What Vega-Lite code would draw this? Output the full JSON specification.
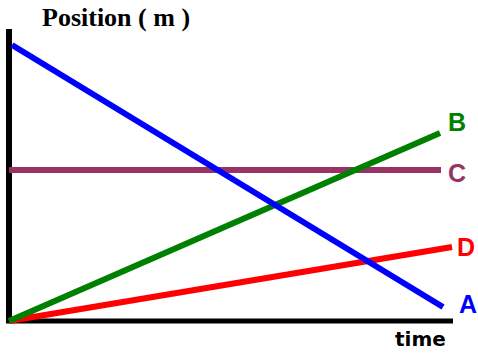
{
  "$schema": "https://vega.github.io/schema/vega-lite/v6.json",
  "width": 478,
  "height": 354,
  "padding": 0,
  "autosize": "none",
  "background": "white",
  "config": {"view": {"stroke": null}},
  "datasets": {
    "lines": [
      {"series": "C", "time": 0, "position": 151},
      {"series": "C", "time": 432, "position": 151},
      {"series": "D", "time": 0, "position": 0},
      {"series": "D", "time": 443, "position": 74},
      {"series": "B", "time": 0, "position": 0},
      {"series": "B", "time": 431, "position": 188},
      {"series": "A", "time": 3, "position": 276},
      {"series": "A", "time": 434, "position": 14}
    ],
    "axesv": [{"time": 0, "p0": -2, "p1": 292}],
    "axesh": [{"position": 0, "t0": -3, "t1": 444}],
    "labels": [
      {"series": "A", "time": 450, "position": 8},
      {"series": "B", "time": 439, "position": 190},
      {"series": "C", "time": 439, "position": 139},
      {"series": "D", "time": 448, "position": 65}
    ],
    "titles": [
      {"label": "Position ( m )", "time": 33, "position": 295, "kind": "y"},
      {"label": "time", "time": 386, "position": -25, "kind": "x"}
    ]
  },
  "layer": [
    {
      "data": {"name": "axesv"},
      "mark": {"type": "rule", "color": "black", "strokeWidth": 6},
      "encoding": {
        "x": {"field": "time", "type": "quantitative", "scale": {"domain": [-9, 469], "range": [0, 478]}, "axis": null},
        "y": {"field": "p0", "type": "quantitative", "scale": {"domain": [-33, 321], "range": [354, 0]}, "axis": null},
        "y2": {"field": "p1"}
      }
    },
    {
      "data": {"name": "axesh"},
      "mark": {"type": "rule", "color": "black", "strokeWidth": 5},
      "encoding": {
        "x": {"field": "t0", "type": "quantitative", "scale": {"domain": [-9, 469], "range": [0, 478]}, "axis": null},
        "x2": {"field": "t1"},
        "y": {"field": "position", "type": "quantitative", "scale": {"domain": [-33, 321], "range": [354, 0]}, "axis": null}
      }
    },
    {
      "data": {"name": "lines"},
      "mark": {"type": "line", "strokeWidth": 6},
      "encoding": {
        "x": {"field": "time", "type": "quantitative", "scale": {"domain": [-9, 469], "range": [0, 478]}, "axis": null},
        "y": {"field": "position", "type": "quantitative", "scale": {"domain": [-33, 321], "range": [354, 0]}, "axis": null},
        "color": {"field": "series", "type": "nominal", "scale": {"domain": ["A", "B", "C", "D"], "range": ["#0000FF", "#008000", "#993366", "#FF0000"]}, "legend": null},
        "order": {"field": "time"},
        "detail": {"field": "series"}
      }
    },
    {
      "data": {"name": "labels"},
      "mark": {"type": "text", "align": "left", "baseline": "alphabetic", "font": "Liberation Sans", "fontWeight": "bold", "fontSize": 25},
      "encoding": {
        "x": {"field": "time", "type": "quantitative", "scale": {"domain": [-9, 469], "range": [0, 478]}, "axis": null},
        "y": {"field": "position", "type": "quantitative", "scale": {"domain": [-33, 321], "range": [354, 0]}, "axis": null},
        "text": {"field": "series"},
        "color": {"field": "series", "type": "nominal", "scale": {"domain": ["A", "B", "C", "D"], "range": ["#0000FF", "#008000", "#993366", "#FF0000"]}, "legend": null}
      }
    },
    {
      "data": {"name": "titles"},
      "transform": [{"filter": "datum.kind == 'y'"}],
      "mark": {"type": "text", "align": "left", "baseline": "alphabetic", "font": "Liberation Serif", "fontWeight": "bold", "fontSize": 26, "color": "black"},
      "encoding": {
        "x": {"field": "time", "type": "quantitative", "scale": {"domain": [-9, 469], "range": [0, 478]}, "axis": null},
        "y": {"field": "position", "type": "quantitative", "scale": {"domain": [-33, 321], "range": [354, 0]}, "axis": null},
        "text": {"field": "label"}
      }
    },
    {
      "data": {"name": "titles"},
      "transform": [{"filter": "datum.kind == 'x'"}],
      "mark": {"type": "text", "align": "left", "baseline": "alphabetic", "font": "DejaVu Sans", "fontWeight": "bold", "fontSize": 20, "color": "black"},
      "encoding": {
        "x": {"field": "time", "type": "quantitative", "scale": {"domain": [-9, 469], "range": [0, 478]}, "axis": null},
        "y": {"field": "position", "type": "quantitative", "scale": {"domain": [-33, 321], "range": [354, 0]}, "axis": null},
        "text": {"field": "label"}
      }
    }
  ]
}
